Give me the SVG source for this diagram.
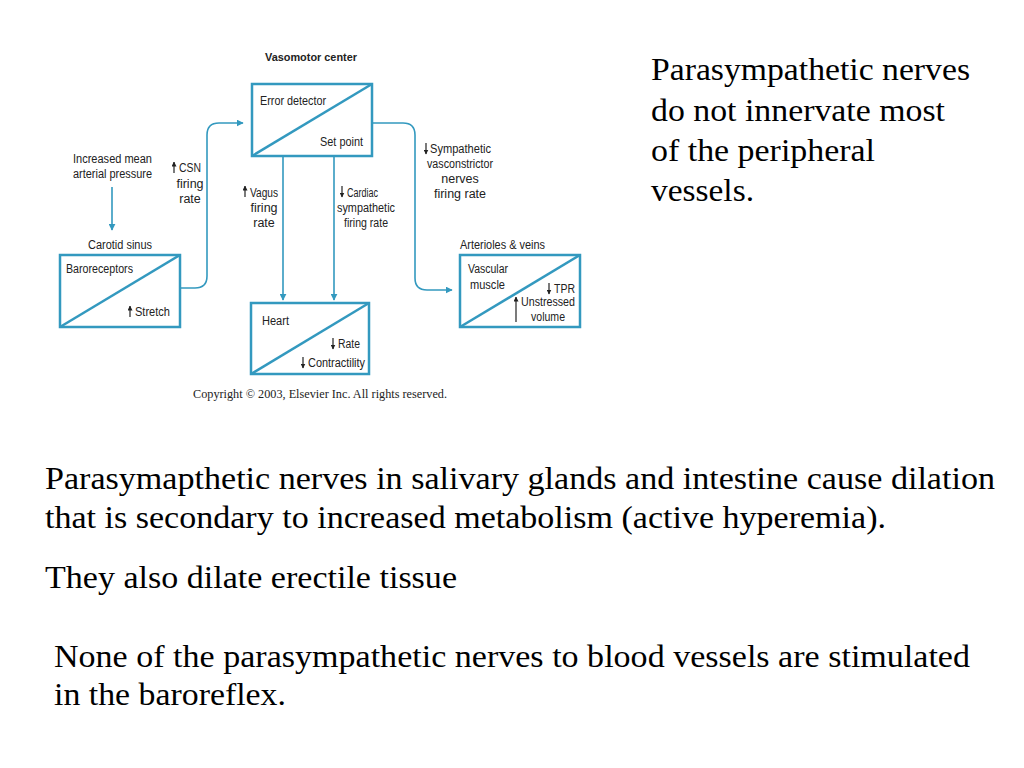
<svg xmlns="http://www.w3.org/2000/svg" width="1024" height="768" viewBox="0 0 1024 768">
<defs>
<marker id="ah" viewBox="0 0 10 10" refX="9" refY="5" markerWidth="7" markerHeight="7" markerUnits="userSpaceOnUse" orient="auto">
<path d="M0,0 L10,5 L0,10 Z" fill="#3399bf"/>
</marker>
<marker id="sm" viewBox="0 0 10 10" refX="9" refY="5" markerWidth="5" markerHeight="5" markerUnits="userSpaceOnUse" orient="auto">
<path d="M0,0 L10,5 L0,10 Z" fill="#222"/>
</marker>
</defs>
<style>
.box{fill:#fff;stroke:#3399bf;stroke-width:2.5}
.diag{stroke:#3399bf;stroke-width:2.5}
.con{fill:none;stroke:#3399bf;stroke-width:1.6}
.lb{font-family:"Liberation Sans Narrow","Liberation Sans",Arial,sans-serif;font-size:12.5px;fill:#222}
.bd{font-family:"Liberation Sans",Arial,sans-serif;font-size:11px;font-weight:bold;fill:#222}
.cp{font-family:"Liberation Serif","Times New Roman",serif;font-size:12px;fill:#222}
.big{font-family:"Liberation Serif","Times New Roman",serif;font-size:31px;fill:#000}
.ua{stroke:#222;stroke-width:1.2;marker-end:url(#sm)}
</style>
<rect width="1024" height="768" fill="#fff"/>

<g id="connectors">
<line class="con" x1="112" y1="187" x2="112" y2="230" marker-end="url(#ah)"/>
<path class="con" d="M180,288 L195,288 Q207,288 207,276 L207,135 Q207,123 219,123 L243,123" marker-end="url(#ah)"/>
<line class="con" x1="283" y1="156" x2="283" y2="300" marker-end="url(#ah)"/>
<line class="con" x1="334" y1="156" x2="334" y2="300" marker-end="url(#ah)"/>
<path class="con" d="M372,123 L403,123 Q415,123 415,135 L415,278 Q415,290 427,290 L452,290" marker-end="url(#ah)"/>
</g>

<g id="vasomotor">
<text class="bd" x="265" y="61" textLength="92" lengthAdjust="spacingAndGlyphs">Vasomotor center</text>
<rect class="box" x="252" y="84" width="120" height="72"/>
<line class="diag" x1="252" y1="156" x2="372" y2="84"/>
<text class="lb" x="260" y="105" textLength="66" lengthAdjust="spacingAndGlyphs">Error detector</text>
<text class="lb" x="320" y="146" textLength="43" lengthAdjust="spacingAndGlyphs">Set point</text>
</g>

<g id="pressure">
<text class="lb" x="73" y="163" textLength="79" lengthAdjust="spacingAndGlyphs">Increased mean</text>
<text class="lb" x="73" y="178" textLength="79" lengthAdjust="spacingAndGlyphs">arterial pressure</text>
</g>

<g id="csn">
<line class="ua" x1="174" y1="173" x2="174" y2="162"/>
<text class="lb" x="179" y="172" textLength="22" lengthAdjust="spacingAndGlyphs">CSN</text>
<text class="lb" x="190" y="188" text-anchor="middle">firing</text>
<text class="lb" x="190" y="203" text-anchor="middle">rate</text>
</g>

<g id="baroreceptors">
<text class="lb" x="88" y="249" textLength="64" lengthAdjust="spacingAndGlyphs">Carotid sinus</text>
<rect class="box" x="60" y="255" width="120" height="72"/>
<line class="diag" x1="60" y1="327" x2="180" y2="255"/>
<text class="lb" x="66" y="273" textLength="67" lengthAdjust="spacingAndGlyphs">Baroreceptors</text>
<line class="ua" x1="130" y1="317" x2="130" y2="306"/>
<text class="lb" x="135" y="316" textLength="35" lengthAdjust="spacingAndGlyphs">Stretch</text>
</g>

<g id="vagus">
<line class="ua" x1="245" y1="197" x2="245" y2="186"/>
<text class="lb" x="250" y="197" textLength="28" lengthAdjust="spacingAndGlyphs">Vagus</text>
<text class="lb" x="264" y="212" text-anchor="middle">firing</text>
<text class="lb" x="264" y="227" text-anchor="middle">rate</text>
</g>

<g id="cardiac">
<line class="ua" x1="342" y1="186" x2="342" y2="197"/>
<text class="lb" x="347" y="197" textLength="31" lengthAdjust="spacingAndGlyphs">Cardiac</text>
<text class="lb" x="337" y="212" textLength="58" lengthAdjust="spacingAndGlyphs">sympathetic</text>
<text class="lb" x="344" y="227" textLength="44" lengthAdjust="spacingAndGlyphs">firing rate</text>
</g>

<g id="heart">
<rect class="box" x="251" y="303" width="118" height="71"/>
<line class="diag" x1="251" y1="374" x2="369" y2="303"/>
<text class="lb" x="262" y="325" textLength="27" lengthAdjust="spacingAndGlyphs">Heart</text>
<line class="ua" x1="333" y1="338" x2="333" y2="349"/>
<text class="lb" x="338" y="348" textLength="22" lengthAdjust="spacingAndGlyphs">Rate</text>
<line class="ua" x1="303" y1="357" x2="303" y2="368"/>
<text class="lb" x="308" y="367" textLength="57" lengthAdjust="spacingAndGlyphs">Contractility</text>
</g>

<g id="sympathetic">
<line class="ua" x1="426" y1="143" x2="426" y2="154"/>
<text class="lb" x="430" y="153" textLength="61" lengthAdjust="spacingAndGlyphs">Sympathetic</text>
<text class="lb" x="427" y="168" textLength="66" lengthAdjust="spacingAndGlyphs">vasconstrictor</text>
<text class="lb" x="460" y="183" text-anchor="middle">nerves</text>
<text class="lb" x="460" y="198" text-anchor="middle">firing rate</text>
</g>

<g id="vessels">
<text class="lb" x="460" y="249" textLength="85" lengthAdjust="spacingAndGlyphs">Arterioles &amp; veins</text>
<rect class="box" x="460" y="255" width="120" height="72"/>
<line class="diag" x1="460" y1="327" x2="580" y2="255"/>
<text class="lb" x="468" y="273" textLength="40" lengthAdjust="spacingAndGlyphs">Vascular</text>
<text class="lb" x="470" y="289" textLength="35" lengthAdjust="spacingAndGlyphs">muscle</text>
<line class="ua" x1="549" y1="283" x2="549" y2="294"/>
<text class="lb" x="554" y="293" textLength="21" lengthAdjust="spacingAndGlyphs">TPR</text>
<line class="ua" x1="516" y1="322" x2="516" y2="297"/>
<text class="lb" x="521" y="306" textLength="54" lengthAdjust="spacingAndGlyphs">Unstressed</text>
<text class="lb" x="531" y="321" textLength="34" lengthAdjust="spacingAndGlyphs">volume</text>
</g>

<text class="cp" x="193" y="398" textLength="254" lengthAdjust="spacingAndGlyphs">Copyright © 2003, Elsevier Inc. All rights reserved.</text>

<g id="notes">
<text class="big" x="651" y="80" textLength="319" lengthAdjust="spacingAndGlyphs">Parasympathetic nerves</text>
<text class="big" x="651" y="121" textLength="294" lengthAdjust="spacingAndGlyphs">do not innervate most</text>
<text class="big" x="651" y="161" textLength="224" lengthAdjust="spacingAndGlyphs">of the peripheral</text>
<text class="big" x="651" y="201" textLength="103" lengthAdjust="spacingAndGlyphs">vessels.</text>
<text class="big" x="45" y="489" textLength="950" lengthAdjust="spacingAndGlyphs">Parasymapthetic nerves in salivary glands and intestine cause dilation</text>
<text class="big" x="45" y="528" textLength="841" lengthAdjust="spacingAndGlyphs">that is secondary to increased metabolism (active hyperemia).</text>
<text class="big" x="45" y="588" textLength="412" lengthAdjust="spacingAndGlyphs">They also dilate erectile tissue</text>
<text class="big" x="54" y="667" textLength="916" lengthAdjust="spacingAndGlyphs">None of the parasympathetic nerves to blood vessels are stimulated</text>
<text class="big" x="54" y="705" textLength="232" lengthAdjust="spacingAndGlyphs">in the baroreflex.</text>
</g>
</svg>
